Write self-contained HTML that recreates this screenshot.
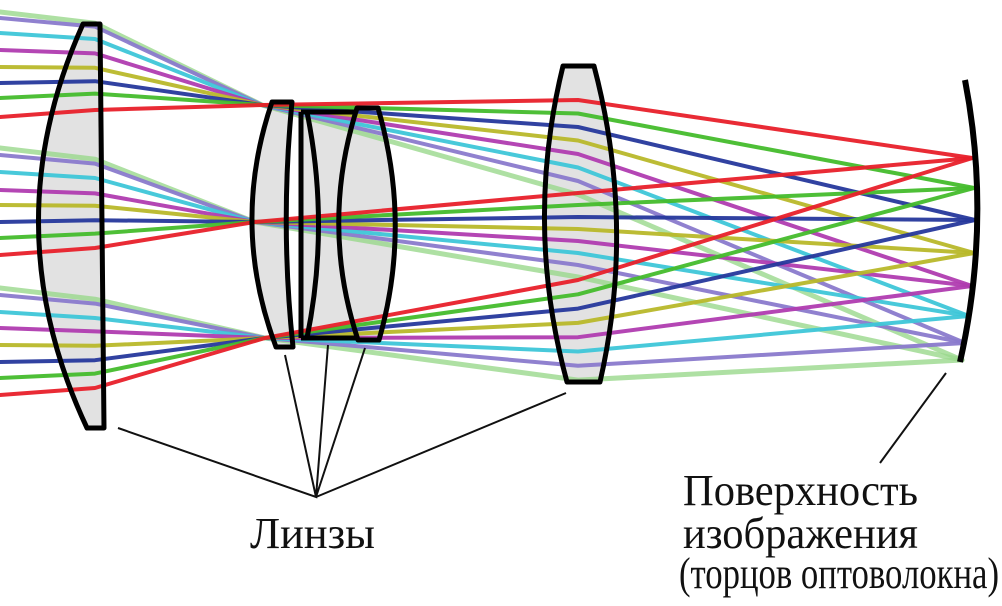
<!DOCTYPE html>
<html><head><meta charset="utf-8"><style>
html,body{margin:0;padding:0;background:#fff;}
svg{display:block;}
text{font-family:"Liberation Serif","DejaVu Serif",serif;fill:#111;}
</style></head><body>
<svg id="s" width="1002" height="606" viewBox="0 0 1002 606" xmlns="http://www.w3.org/2000/svg">
<g id="fills" fill="#e2e2e2" stroke="none">
<path d="M83 24 L100 24 L104 428 L87 428 Q-8 226 83 24 Z"/>
<path d="M272 102 L292 102 Q280 225 293 347 L276 347 Q230 225 272 102 Z"/>
<path d="M301 112 L357 112 L357 338 L301 338 Z"/>
<path d="M357 108 L378 108 Q412 225 379 340 L358 340 Q320 225 357 108 Z"/>
<path d="M563 66 L594 66 Q636 225 600 382 L567 382 Q524 225 563 66 Z"/>
</g>
<g id="rays" fill="none" stroke-linejoin="round" stroke-linecap="round"></g>
<g fill="none" stroke="#000" stroke-width="5" stroke-linejoin="round">
<path d="M83 24 L100 24 L104 428 L87 428 Q-8 226 83 24 Z"/>
<path d="M272 102 L292 102 Q280 225 293 347 L276 347 Q230 225 272 102 Z"/>
<path d="M301 112 L357 112 M301 338 L357 338 M301 112 L301 338 M307 112 Q330 225 307 338"/>
<path d="M357 108 L378 108 Q412 225 379 340 L358 340 Q320 225 357 108 Z"/>
<path d="M563 66 L594 66 Q636 225 600 382 L567 382 Q524 225 563 66 Z"/>
<path d="M965 80 Q992 220 960 362" stroke-width="6"/>
</g>
<g stroke="#111" stroke-width="2" fill="none">
<path d="M118 428 L316 497 L285 355 M316 497 L328 345 M316 497 L365 348 M316 497 L566 393"/>
<path d="M946 373 L880 463"/>
</g>
<text x="250" y="548" font-size="44" textLength="125" lengthAdjust="spacingAndGlyphs">Линзы</text>
<text x="683" y="505" font-size="44" textLength="235" lengthAdjust="spacingAndGlyphs">Поверхность</text>
<text x="683" y="548" font-size="44" textLength="235" lengthAdjust="spacingAndGlyphs">изображения</text>
<text x="679" y="588" font-size="44" textLength="320" lengthAdjust="spacingAndGlyphs">(торцов оптоволокна)</text>
</svg>
<script>
var cols=["#e8202a","#44bc2c","#26389c","#b8b82a","#b03cb0","#3ec6d8","#8a7acc","#9ad88c"];
var F=[158,188,220,253,286,316,343,360];
var left=[[117,98,83,67,50,33,18,12],[255,238,222,205,190,172,155,148],[395,378,362,345,328,312,295,288]];
var P=[[262,105],[255,222],[265,338]];
var L=[[],[],[]];
for(var c=0;c<8;c++){L[0][c]=100+c*13.5;L[1][c]=193+c*12;L[2][c]=280+c*14.3;}
var g=document.getElementById("rays");var out="";
for(var c=7;c>=0;c--){for(var b=0;b<3;b++){
 var y0=left[b][c];var y1=y0-7+ (c)*2.6;
 var fy=F[c];var fx=975-Math.pow((fy-220)/140,2)*13;
 var d="M0 "+y0+" L95 "+y1.toFixed(1)+" L"+P[b][0]+" "+P[b][1]+" L578 "+L[b][c].toFixed(1)+" L"+fx.toFixed(1)+" "+fy;
 out+='<path d="'+d+'" stroke="'+cols[c]+'" stroke-width="'+(c==7?5:4)+'" stroke-opacity="'+(c==7?0.8:0.95)+'"/>';
}}
g.innerHTML=out;
</script>
</body></html>
